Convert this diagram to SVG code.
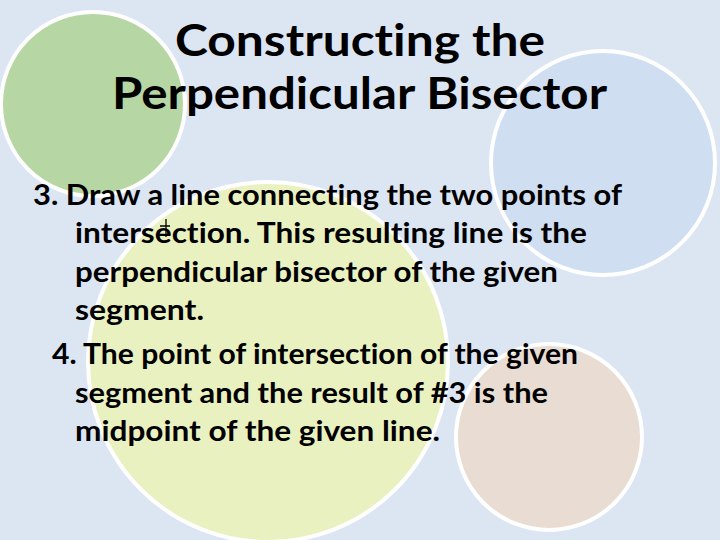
<svg xmlns="http://www.w3.org/2000/svg" width="720" height="540" viewBox="0 0 720 540">
<style>
.c{stroke:#fff;stroke-width:4}
.t{font-family:Lato,"Open Sans",sans-serif;font-weight:bold;fill:#000;font-variant-ligatures:none}
</style>
<rect width="720" height="540" fill="#dce6f3"/>
<circle class="c" cx="93" cy="104" r="92" fill="#b6d7a3"/>
<circle class="c" cx="603" cy="163" r="112" fill="#cfdef1"/>
<circle class="c" cx="268" cy="362" r="180" fill="#eaf1c0"/>
<circle class="c" cx="549" cy="437" r="93" fill="#e8dcd3"/>
<g class="t" font-size="44">
<text x="175" y="56" textLength="370" lengthAdjust="spacingAndGlyphs">Constructing the</text>
<text x="112" y="109" textLength="495" lengthAdjust="spacingAndGlyphs">Perpendicular Bisector</text>
</g>
<g class="t" font-size="28">
<text x="33" y="205" textLength="589" lengthAdjust="spacingAndGlyphs">3. Draw a line connecting the two points of</text>
<text x="75" y="243" textLength="512" lengthAdjust="spacingAndGlyphs">intersection.  This resulting line is the</text>
<text x="75" y="282" textLength="483" lengthAdjust="spacingAndGlyphs">perpendicular bisector of the given</text>
<text x="75" y="320" textLength="129" lengthAdjust="spacingAndGlyphs">segment.</text>
<text x="52" y="364" textLength="526" lengthAdjust="spacingAndGlyphs">4. The point of intersection of the given</text>
<text x="75" y="403" textLength="473" lengthAdjust="spacingAndGlyphs">segment and the result of #3 is the</text>
<text x="75" y="441" textLength="365" lengthAdjust="spacingAndGlyphs">midpoint of the given line.</text>
</g>
<path d="M166 219V237M160 226H170" stroke="#000" stroke-width="1.3" fill="none"/>
</svg>
